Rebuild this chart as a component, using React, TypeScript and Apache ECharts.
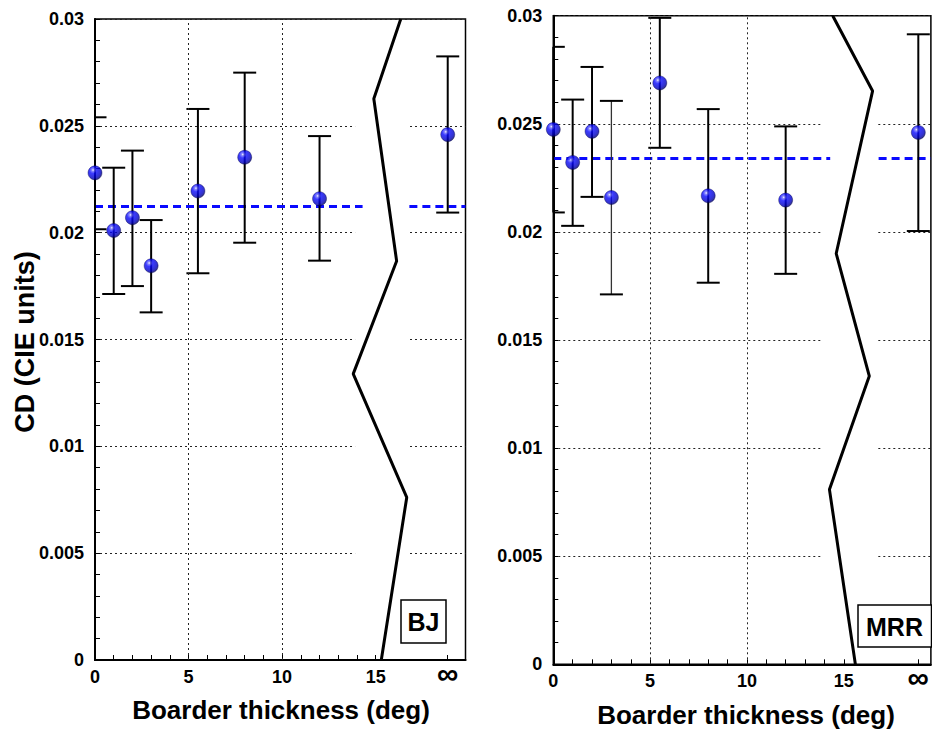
import React, { useEffect, useRef } from "react";
import * as echarts from "echarts";

// ---- data ----
const INF = 18.85; // position used for the "∞" category on the x axis
const X_MAX_BJ = 19.8;
const X_MAX_MRR = 19.5; // right panel is cut by the picture edge
const X_TICKS = [0, 1, 2, 3, 4, 5, 6, 7, 8, 9, 10, 11, 12, 13, 14, 15, INF];
const X_LABELS = [0, 5, 10, 15, INF];
const THICKNESS = [0, 1, 2, 3, 5.5, 8, 12, INF];

const BJ_MEAN = [0.0228, 0.0201, 0.0207, 0.01845, 0.02195, 0.02353, 0.02159, 0.02459];
const BJ_HIGH = [0.0254, 0.02304, 0.02384, 0.02059, 0.02579, 0.02749, 0.02452, 0.02825];
const BJ_LOW = [0.02016, 0.01713, 0.0175, 0.01627, 0.0181, 0.01953, 0.01869, 0.02094];
const BJ_REF = 0.02123;
const BJ_BREAK_X = [16.34, 14.9, 16.12, 13.8, 16.66, 15.3];
const BJ_BREAK_Y = [0.03, 0.02627, 0.01867, 0.01339, 0.00761, 0];

const MRR_MEAN = [0.02474, 0.02321, 0.02465, 0.02159, 0.02689, 0.02167, 0.02147, 0.0246];
const MRR_HIGH = [0.02856, 0.02612, 0.02763, 0.02606, 0.0299, 0.02568, 0.02488, 0.02914];
const MRR_LOW = [0.0209, 0.02028, 0.02162, 0.01711, 0.02389, 0.01765, 0.01806, 0.02004];
const MRR_REF = 0.0234;
const MRR_BREAK_X = [14.43, 16.49, 14.61, 16.32, 14.26, 15.6];
const MRR_BREAK_Y = [0.03, 0.02652, 0.019, 0.01333, 0.00809, 0];

const REF_GAP = [14.3, 16.8];
const BREAK_BAND = [13.9, 16.7];
const V_GRID = [5, 10];

const FONT = "'Liberation Sans', Arial, Helvetica, sans-serif";

const sphere = new echarts.graphic.RadialGradient(0.36, 0.3, 0.72, [
  { offset: 0, color: "#f4f4ff" },
  { offset: 0.12, color: "#7070ff" },
  { offset: 0.35, color: "#0a0aff" },
  { offset: 0.8, color: "#0000c0" },
  { offset: 1, color: "#00006a" },
]);

function panel(idx: number, xMax: number, mean: number[], high: number[], low: number[], ref: number,
  bx: number[], by: number[], thin: number[]) {
  const xAxis = {
    type: "value", gridIndex: idx, min: 0, max: xMax, interval: 5,
    axisLine: { show: true, onZero: false, lineStyle: { color: "#000", width: 2 } },
    axisTick: { show: true, inside: true, length: 5, customValues: X_TICKS, lineStyle: { color: "#000", width: 1 } },
    axisLabel: {
      show: true, customValues: X_LABELS, margin: 8,
      color: "#000", fontFamily: FONT, fontWeight: "bold", fontSize: 18,
      formatter: (v: number) => (Math.abs(v - INF) < 1e-6 ? "{inf|∞}" : String(v)),
      rich: { inf: { fontSize: 30, lineHeight: 10, fontWeight: "bold", fontFamily: FONT, color: "#000" } },
    },
    splitLine: { show: false },
  };
  const yAxis = {
    type: "value", gridIndex: idx, min: 0, max: 0.03, interval: 0.005,
    axisLine: { show: true, onZero: false, lineStyle: { color: "#000", width: 2 } },
    axisTick: { show: true, inside: true, length: 5, lineStyle: { color: "#000", width: 1 } },
    minorTick: { show: true, splitNumber: 5, length: 5, lineStyle: { color: "#000", width: 1 } },
    axisLabel: { margin: 11, color: "#000", fontFamily: FONT, fontWeight: "bold", fontSize: 18 },
    splitLine: { show: true, lineStyle: { color: "#222", width: 1, type: [2, 3] } },
  };
  const series: any[] = [
    {
      type: "custom", xAxisIndex: idx, yAxisIndex: idx, z: 1, silent: true,
      data: [[BREAK_BAND[0], BREAK_BAND[1]]],
      renderItem: (params: any, api: any) => {
        const cs = params.coordSys;
        const a = api.coord([api.value(0), 0]);
        const b = api.coord([api.value(1), 0]);
        return {
          type: "rect",
          shape: { x: a[0], y: cs.y + 2, width: b[0] - a[0], height: cs.height - 8 },
          style: { fill: "#fff", stroke: null },
        };
      },
      markLine: {
        silent: true, symbol: "none", label: { show: false },
        lineStyle: { color: "#222", width: 1, type: [2, 3] },
        data: V_GRID.map((v) => ({ xAxis: v })),
      },
    },
    {
      type: "line", xAxisIndex: idx, yAxisIndex: idx, z: 3, silent: true, symbol: "none",
      connectNulls: false,
      lineStyle: { color: "#0a0aff", width: 3, type: [8, 5] },
      data: [[0, ref], [REF_GAP[0], ref], "-", [REF_GAP[1], ref], [xMax, ref]],
    },
    {
      type: "line", xAxisIndex: idx, yAxisIndex: idx, z: 3, silent: true, symbol: "none", clip: false,
      lineStyle: { color: "#000", width: 3 },
      data: bx.map((x, i) => [x, by[i]]),
    },
    {
      type: "custom", xAxisIndex: idx, yAxisIndex: idx, z: 4, silent: true,
      encode: { x: 0, y: [1, 2] },
      data: THICKNESS.map((x, i) => [x, low[i], high[i]]),
      renderItem: (params: any, api: any) => {
        const cs = params.coordSys;
        const x = api.value(0);
        const pLo = api.coord([x, api.value(1)]);
        const pHi = api.coord([x, api.value(2)]);
        const hw = 11.5;
        const l = Math.max(pLo[0] - hw, cs.x);
        const r = Math.min(pLo[0] + hw, cs.x + cs.width);
        const isThin = thin.indexOf(params.dataIndex) >= 0;
        const vStyle = { stroke: isThin ? "#333" : "#000", lineWidth: isThin ? 1.3 : 2 };
        const cStyle = { stroke: "#000", lineWidth: 2 };
        return {
          type: "group",
          children: [
            { type: "line", shape: { x1: pLo[0], y1: pLo[1], x2: pHi[0], y2: pHi[1] }, style: vStyle },
            { type: "line", shape: { x1: l, y1: pHi[1], x2: r, y2: pHi[1] }, style: cStyle },
            { type: "line", shape: { x1: l, y1: pLo[1], x2: r, y2: pLo[1] }, style: cStyle },
          ],
        };
      },
    },
    {
      type: "scatter", xAxisIndex: idx, yAxisIndex: idx, z: 5, silent: true, clip: false,
      symbol: "circle", symbolSize: 14,
      itemStyle: { color: sphere, borderColor: "#000050", borderWidth: 0.5 },
      data: THICKNESS.map((x, i) => [x, mean[i]]),
    },
  ];
  return { xAxis, yAxis, series };
}

export default function App() {
  const ref = useRef<HTMLDivElement>(null);
  useEffect(() => {
    if (!ref.current) return;
    const chart = echarts.init(ref.current, null, { renderer: "svg" });
    const p0 = panel(0, X_MAX_BJ, BJ_MEAN, BJ_HIGH, BJ_LOW, BJ_REF, BJ_BREAK_X, BJ_BREAK_Y, []);
    const p1 = panel(1, X_MAX_MRR, MRR_MEAN, MRR_HIGH, MRR_LOW, MRR_REF, MRR_BREAK_X, MRR_BREAK_Y, [3]);
    const titleStyle = { fill: "#000", fontFamily: FONT, fontWeight: "bold", fontSize: 26 };
    chart.setOption({
      animation: false,
      backgroundColor: "#fff",
      grid: [
        { left: 95, top: 19, width: 370.5, height: 641, show: true, borderColor: "#000", borderWidth: 1.5, backgroundColor: "transparent" },
        { left: 553.3, top: 15.7, width: 378.3, height: 648.6, show: true, borderColor: "#000", borderWidth: 1.5, backgroundColor: "transparent" },
      ],
      xAxis: [p0.xAxis, p1.xAxis],
      yAxis: [p0.yAxis, p1.yAxis],
      series: [...p0.series, ...p1.series],
      graphic: [
        { type: "text", z: 100, x: 25, y: 342, rotation: Math.PI / 2,
          style: { ...titleStyle, fontSize: 27, text: "CD (CIE units)", textAlign: "center", textVerticalAlign: "middle" } },
        { type: "text", z: 100, x: 281, y: 710,
          style: { ...titleStyle, text: "Boarder thickness (deg)", textAlign: "center", textVerticalAlign: "middle" } },
        { type: "text", z: 100, x: 746, y: 715,
          style: { ...titleStyle, text: "Boarder thickness (deg)", textAlign: "center", textVerticalAlign: "middle" } },
        { type: "rect", z: 100, shape: { x: 401, y: 600, width: 45, height: 43 },
          style: { fill: "#fff", stroke: "#000", lineWidth: 1.5 } },
        { type: "text", z: 101, x: 423.5, y: 622,
          style: { ...titleStyle, fontSize: 25, text: "BJ", textAlign: "center", textVerticalAlign: "middle" } },
        { type: "rect", z: 100, shape: { x: 858, y: 605, width: 73.5, height: 42 },
          style: { fill: "#fff", stroke: "#000", lineWidth: 1.5 } },
        { type: "text", z: 101, x: 894.5, y: 626.5,
          style: { ...titleStyle, fontSize: 25, text: "MRR", textAlign: "center", textVerticalAlign: "middle" } },
      ],
    });
    return () => chart.dispose();
  }, []);
  return (
    <div
      ref={ref}
      style={{ position: "absolute", left: 0, top: 0, width: 932, height: 731, background: "#fff" }}
    />
  );
}
